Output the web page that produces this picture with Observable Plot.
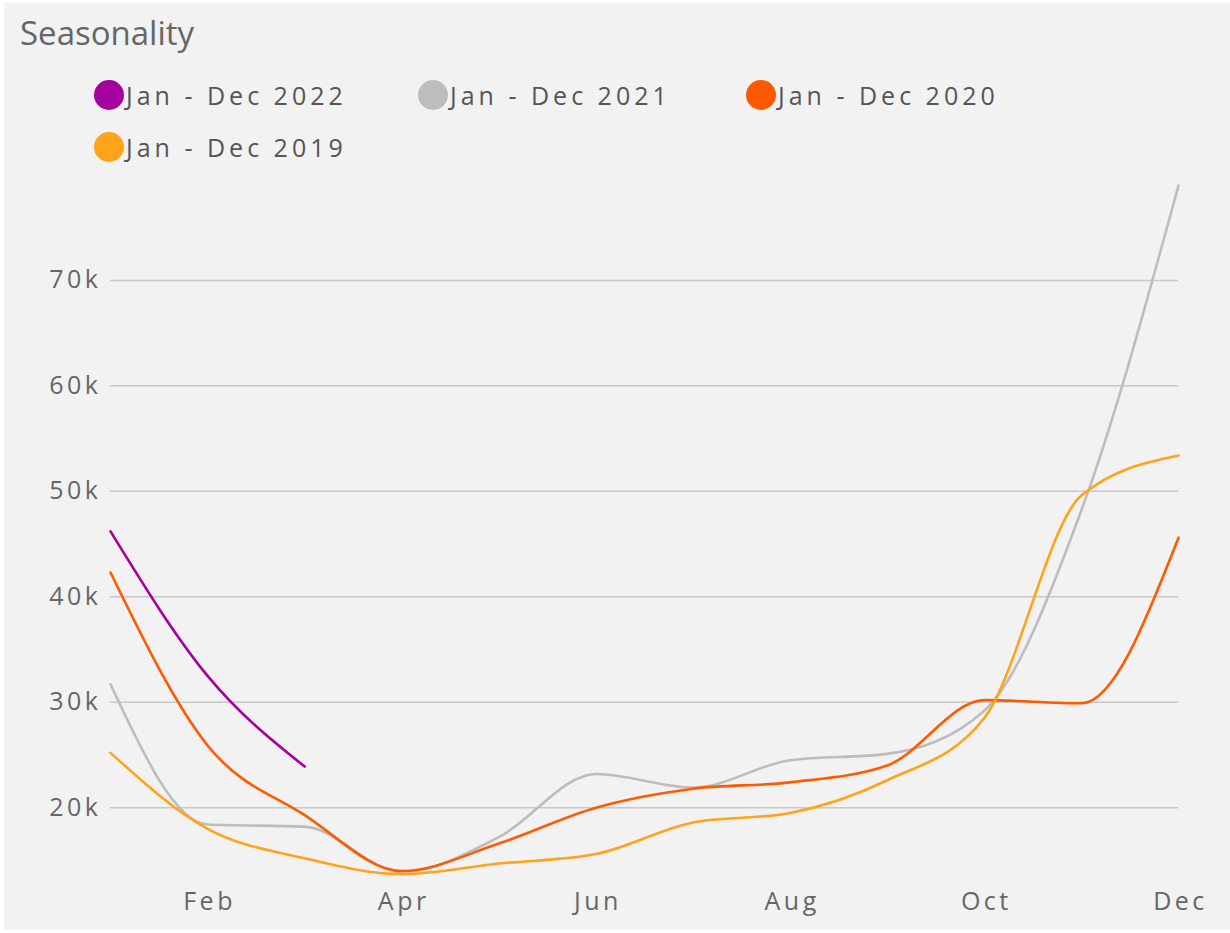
<!DOCTYPE html>
<html>
<head>
<meta charset="utf-8">
<script src="https://cdn.jsdelivr.net/npm/d3@7"></script>
<script src="https://cdn.jsdelivr.net/npm/@observablehq/plot@0.6"></script>
<style>
  html, body { margin: 0; padding: 0; background: #ffffff; }
  #card { position: absolute; left: 4px; top: 3px; width: 1226px; height: 927px; background: #f2f2f2; overflow: hidden; font-family: "Open Sans", sans-serif; }
  #title { position: absolute; left: 16px; top: 13px; font-size: 33px; line-height: 33px; color: #666; }
  #legend { position: absolute; left: 90px; top: 77px; width: 1000px; }
  .item { position: absolute; display: flex; align-items: center; font-size: 25px; line-height: 25px; height: 30px; letter-spacing: 4px; color: #555; white-space: nowrap; }
  .dot { width: 30px; height: 30px; border-radius: 50%; margin-right: 2px; flex: none; }
  #chart { position: absolute; left: -4px; top: 167px; }
</style>
</head>
<body>
<div id="card">
  <div id="title">Seasonality</div>
  <div id="legend"></div>
  <div id="chart"></div>
</div>
<script>
const months = ["Jan","Feb","Mar","Apr","May","Jun","Jul","Aug","Sep","Oct","Nov","Dec"];
const tickMonths = [2, 4, 6, 8, 10, 12];
const yTicks = [20000, 30000, 40000, 50000, 60000, 70000];

const seriesNames = ["Jan - Dec 2022", "Jan - Dec 2021", "Jan - Dec 2020", "Jan - Dec 2019"];
const seriesColors = ["#a5009f", "#bdbdbd", "#ff5a00", "#ffa31a"];

const values2022 = [46200, 32500, 23900];
const values2021 = [31700, 18400, 18200, 13900, 17200, 23200, 21900, 24500, 25100, 29200, 48200, 79000];
const values2020 = [42300, 25900, 19300, 14000, 16600, 20000, 21800, 22400, 24000, 30200, 29900, 45600];
const values2019 = [25200, 18000, 15200, 13700, 14700, 15600, 18600, 19500, 22600, 28500, 49600, 53400];

const seriesValues = [values2022, values2021, values2020, values2019];

// legend
const legend = document.getElementById("legend");
const legendPos = [[0, 0], [324, 0], [652, 0], [0, 52]];
seriesNames.forEach((name, i) => {
  const el = document.createElement("div");
  el.className = "item";
  el.style.left = legendPos[i][0] + "px";
  el.style.top = legendPos[i][1] + "px";
  el.innerHTML = `<span class="dot" style="background:${seriesColors[i]}"></span><span>${name}</span>`;
  legend.appendChild(el);
});

// long table
const data = [];
seriesNames.forEach((name, i) => {
  seriesValues[i].forEach((v, j) => data.push({series: name, month: j + 1, value: v}));
});

// draw order: 2021, 2020, 2019, 2022
const drawOrder = [1, 2, 3, 0];

const chart = Plot.plot({
  width: 1230,
  height: 763,
  marginTop: 15,
  marginLeft: 110,
  marginRight: 52,
  marginBottom: 52,
  style: { background: "transparent", fontFamily: "Open Sans, sans-serif", fontSize: "25px", color: "#666", letterSpacing: "3.5px" },
  x: { domain: [1, 12], label: null },
  y: { domain: [13000, 79000], label: null },
  marks: [
    Plot.ruleY(yTicks, { stroke: "#c8c8c8", strokeWidth: 1.5 }),
    ...drawOrder.map(i => Plot.line(data.filter(d => d.series === seriesNames[i]), {
      x: "month", y: "value", stroke: seriesColors[i], strokeWidth: 2.6, curve: "monotone-x"
    })),
    Plot.axisX({ ticks: tickMonths, tickFormat: d => months[d - 1], tickSize: 0, tickPadding: 11, fill: "#666", dx: 2 }),
    Plot.axisY({ ticks: yTicks, tickFormat: d => (d / 1000) + "k", tickSize: 0, tickPadding: 9, fill: "#666" })
  ]
});
document.getElementById("chart").appendChild(chart);
</script>
</body>
</html>
